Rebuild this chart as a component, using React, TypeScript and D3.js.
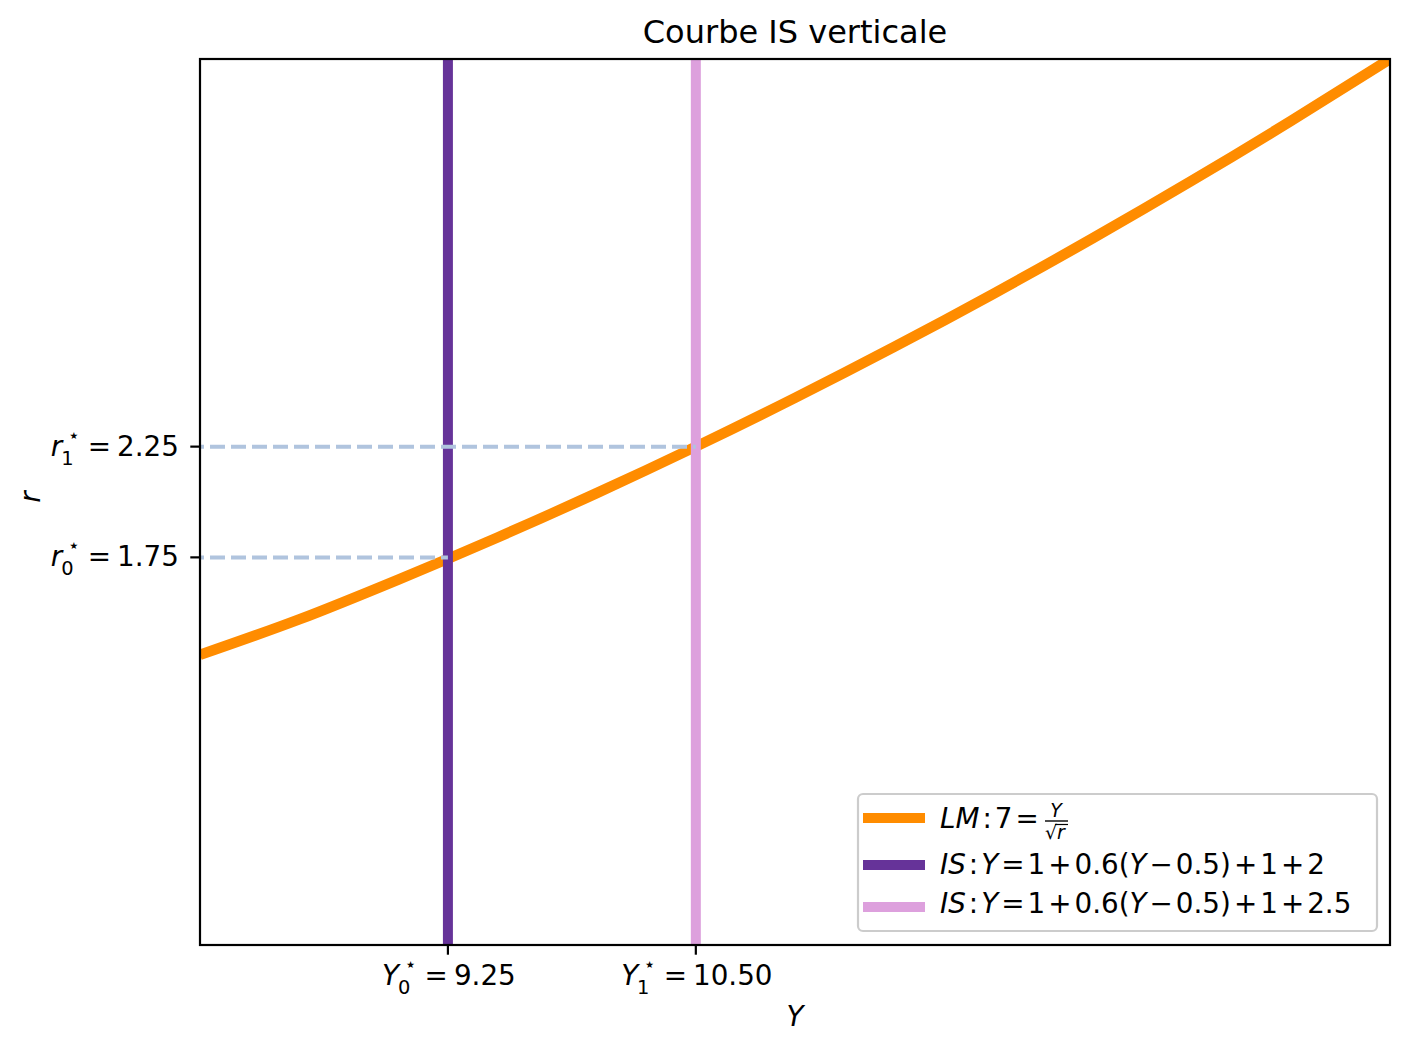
import React from "react";
import * as d3 from "d3";

// ---- data ----
const lmY = [8, 8.5, 9, 9.5, 10, 10.5, 11, 11.5, 12, 12.5, 13, 13.5, 14];
const lmR = [1.31, 1.47, 1.65, 1.84, 2.04, 2.25, 2.47, 2.7, 2.94, 3.19, 3.45, 3.72, 4.0];
const isY = [9.25, 10.5];
const eqR = [1.75, 2.25];
const xTickValues = [9.25, 10.5];
const xTickTexts = ["9.25", "10.50"];
const yTickValues = [1.75, 2.25];
const yTickTexts = ["1.75", "2.25"];
const xDomain = [8, 14];
const yDomain = [0, 4];
const isConst = ["2", "2.5"];

const W = 1409;
const H = 1053;
const M = { left: 200, right: 1390, top: 59, bottom: 945 };
const FONT = "DejaVu Sans";
const FS = 27.8;
const SFS = FS * 0.7;

const C_LM = "#ff8c00";
const C_IS0 = "#663399";
const C_IS1 = "#dda0dd";
const C_DASH = "#b0c4de";

function Sym({ base, sub, value }: { base: string; sub: string; value: string }) {
  return (
    <>
      <tspan fontStyle="italic">{base}</tspan>
      <tspan fontSize={SFS} dy={9} dx={-1}>{sub}</tspan>
      <tspan fontSize={SFS} dx={-6} dy={-23}>⋆</tspan>
      <tspan dy={14} dx={8}>=</tspan>
      <tspan dx={6}>{value}</tspan>
    </>
  );
}

export default function App() {
  const x = d3.scaleLinear().domain(xDomain).range([M.left, M.right]);
  const y = d3.scaleLinear().domain(yDomain).range([M.bottom, M.top]);
  const pts = lmY.map((v, i) => [v, lmR[i]] as [number, number]);
  const line = d3
    .line<[number, number]>()
    .x((d) => x(d[0]))
    .y((d) => y(d[1]))
    .curve(d3.curveMonotoneX);

  const lgX = 858;
  const lgY = 794;
  const rows = [818, 865, 907];
  const base = [828, 874, 913];
  const colors = [C_LM, C_IS0, C_IS1];
  const op = 3;

  return (
    <svg
      width={W}
      height={H}
      style={{ position: "absolute", left: 0, top: 0, background: "#fff" }}
      fontFamily={FONT}
    >
      <defs>
        <clipPath id="plot">
          <rect x={M.left} y={M.top} width={M.right - M.left} height={M.bottom - M.top} />
        </clipPath>
      </defs>
      <rect width={W} height={H} fill="#fff" />
      <g clipPath="url(#plot)">
        <path d={line(pts) || ""} fill="none" stroke={C_LM} strokeWidth={10.5} />
        {isY.map((v, i) => (
          <line
            key={i}
            x1={x(v)}
            x2={x(v)}
            y1={M.top - 10}
            y2={M.bottom + 10}
            stroke={i === 0 ? C_IS0 : C_IS1}
            strokeWidth={10}
          />
        ))}
        {eqR.map((r, i) => (
          <line
            key={i}
            x1={M.left}
            x2={x(isY[i])}
            y1={y(r)}
            y2={y(r)}
            stroke={C_DASH}
            strokeWidth={4}
            strokeDasharray="15 6"
            strokeDashoffset={11}
          />
        ))}
      </g>
      <rect
        x={M.left}
        y={M.top}
        width={M.right - M.left}
        height={M.bottom - M.top}
        fill="none"
        stroke="#000"
        strokeWidth={2.2}
      />
      {/* x ticks */}
      {xTickValues.map((v, i) => (
        <g key={i}>
          <line x1={x(v)} x2={x(v)} y1={M.bottom} y2={M.bottom + 9.7} stroke="#000" strokeWidth={2.2} />
          <text x={x(v) + 1} y={985} fontSize={FS} textAnchor="middle">
            <Sym base="Y" sub={String(i)} value={xTickTexts[i]} />
          </text>
        </g>
      ))}
      {/* y ticks */}
      {yTickValues.map((v, i) => (
        <g key={i}>
          <line x1={M.left - 9.7} x2={M.left} y1={y(v)} y2={y(v)} stroke="#000" strokeWidth={2.2} />
          <text x={179} y={y(v) + 9} fontSize={FS} textAnchor="end">
            <Sym base="r" sub={String(i)} value={yTickTexts[i]} />
          </text>
        </g>
      ))}
      {/* axis labels */}
      <text x={795} y={1026} fontSize={FS} fontStyle="italic" textAnchor="middle">Y</text>
      <text
        transform="translate(40,497) rotate(-90)"
        fontSize={FS}
        fontStyle="italic"
        textAnchor="middle"
      >
        r
      </text>
      {/* title */}
      <text x={795} y={43} fontSize={32} textAnchor="middle">Courbe IS verticale</text>
      {/* legend */}
      <rect
        x={lgX}
        y={lgY}
        width={1377 - lgX}
        height={931 - lgY}
        rx={5}
        fill="#fff"
        fillOpacity={0.8}
        stroke="#cccccc"
        strokeWidth={2.2}
      />
      {rows.map((ry, i) => (
        <line key={i} x1={863} x2={925} y1={ry} y2={ry} stroke={colors[i]} strokeWidth={10} />
      ))}
      <text x={940} y={base[0]} fontSize={FS}>
        <tspan fontStyle="italic">LM</tspan>
        <tspan dx={op}>:</tspan>
        <tspan dx={op}>7</tspan>
        <tspan dx={op}>=</tspan>
      </text>
      <g>
        <text x={1056} y={817} fontSize={19} fontStyle="italic" textAnchor="middle">Y</text>
        <line x1={1045} x2={1068} y1={821} y2={821} stroke="#000" strokeWidth={1.4} />
        <text x={1045} y={839} fontSize={19}>√</text>
        <text x={1057} y={839} fontSize={19} fontStyle="italic">r</text>
        <line x1={1055} x2={1068} y1={824.5} y2={824.5} stroke="#000" strokeWidth={1.2} />
      </g>
      {isConst.map((c, i) => (
        <text key={i} x={940} y={base[i + 1]} fontSize={FS}>
          <tspan fontStyle="italic">IS</tspan>
          <tspan dx={op}>:</tspan>
          <tspan dx={op} fontStyle="italic">Y</tspan>
          <tspan dx={op}>=</tspan>
          <tspan dx={op}>1</tspan>
          <tspan dx={op}>+</tspan>
          <tspan dx={op}>0.6(</tspan>
          <tspan fontStyle="italic">Y</tspan>
          <tspan dx={op}>−</tspan>
          <tspan dx={op}>0.5)</tspan>
          <tspan dx={op}>+</tspan>
          <tspan dx={op}>1</tspan>
          <tspan dx={op}>+</tspan>
          <tspan dx={op}>{c}</tspan>
        </text>
      ))}
    </svg>
  );
}
